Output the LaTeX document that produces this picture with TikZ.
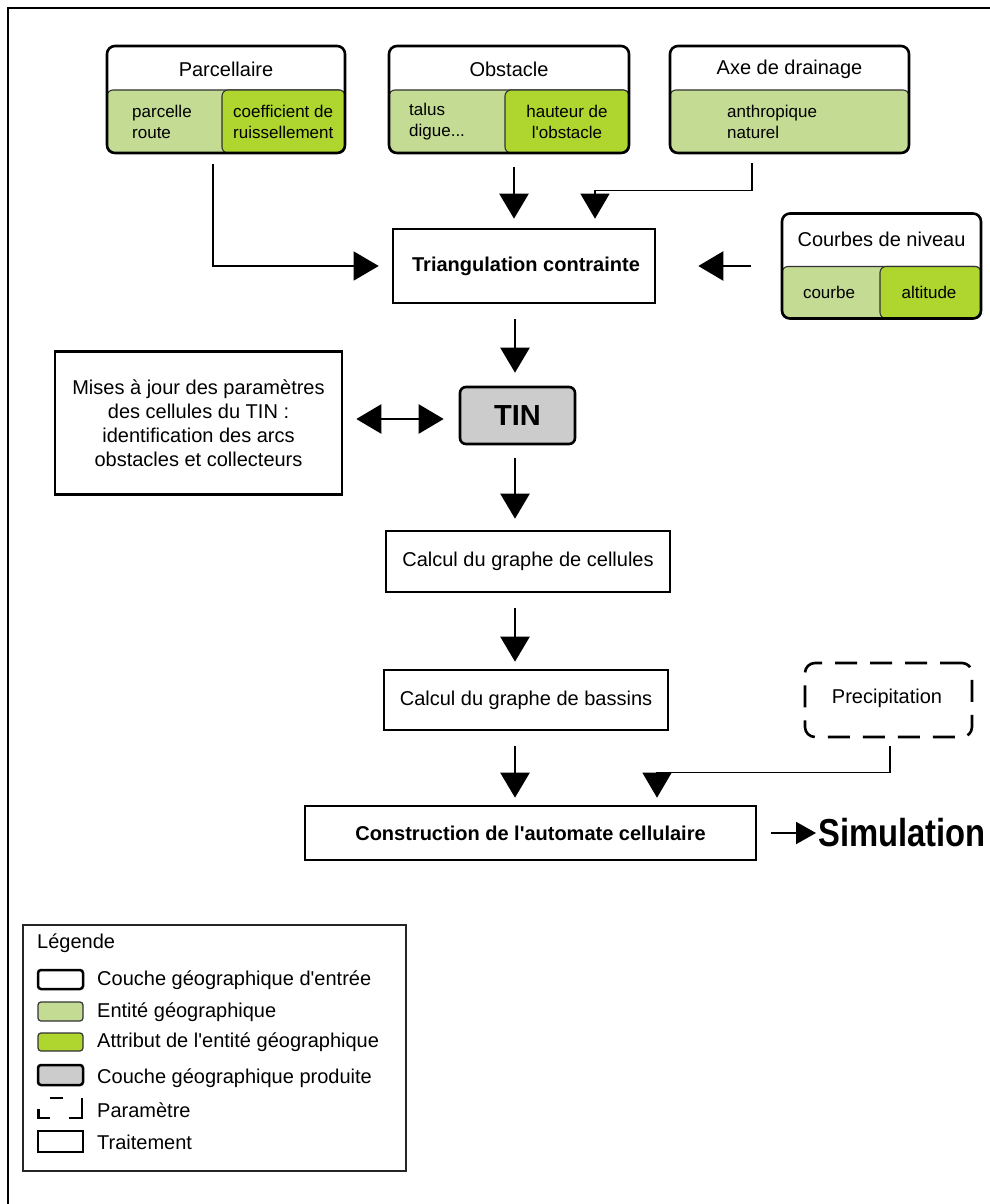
\documentclass[tikz,border=0pt]{standalone}
\usepackage{fontspec}
\setmainfont{Liberation Sans}
\usetikzlibrary{arrows.meta}
\definecolor{lgreen}{HTML}{C4DB94}
\definecolor{dgreen}{HTML}{AED62F}
\definecolor{tingray}{HTML}{CCCCCC}
\newcommand{\apo}{\textquotesingle}
\tikzset{
 inlayer/.style={draw, line width=2.6pt, rounded corners=8pt, inner sep=0pt},
 ent/.style={draw=black!80, line width=1.1pt, fill=lgreen, rounded corners=6pt, inner sep=0pt},
 attr/.style={draw=black!80, line width=1.1pt, fill=dgreen, rounded corners=6pt, inner sep=0pt},
 proc/.style={draw, line width=2.6pt, inner sep=0pt, fill=white},
 prod/.style={draw, line width=2.6pt, rounded corners=6pt, fill=tingray, inner sep=0pt},
 param/.style={draw, line width=2.6pt, dash pattern=on 22pt off 13pt, rounded corners=10pt, inner sep=0pt},
 hd/.style={font=\fontsize{20}{21}\selectfont, inner sep=0pt},
 bhd/.style={font=\fontsize{20}{21}\selectfont\bfseries, inner sep=0pt},
 ct/.style={font=\fontsize{17}{21}\selectfont, inner sep=0pt, align=left},
 arr/.style={line width=2.4pt, -{Triangle[length=25pt,width=29pt]}},
 tarr/.style={line width=1.2pt, -{Triangle[length=25pt,width=29pt]}},
 darr/.style={line width=2.4pt, {Triangle[length=25pt,width=29pt]}-{Triangle[length=25pt,width=29pt]}},
 sarr/.style={line width=2.2pt, -{Triangle[length=20pt,width=22pt]}},
 legicon/.style={minimum width=45pt, inner sep=0pt},
}
\begin{document}
\begin{tikzpicture}[x=1pt,y=-1pt]
\useasboundingbox (0,0) rectangle (989,1204);
\fill[white] (0,0) rectangle (989,1204);
% outer frame
\draw[line width=2.7pt] (8,1230) -- (8,8) -- (1010,8);

% ---- Parcellaire
\node[ent, minimum width=238pt, minimum height=63pt] (parcE) at (226,121.5) {};
\node[attr, minimum width=123pt, minimum height=63pt] (parcA) at (283.5,121.5) {};
\node[inlayer, minimum width=238pt, minimum height=107pt] (parc) at (226,99.5) {};
\node[hd] (parcT) at (226,69) {Parcellaire};
\node[ct, anchor=west] (parcEt) at (132,121.5) {parcelle\\route};
\node[ct, anchor=west] (parcAt) at (233,121.5) {coefficient de\\ruissellement};

% ---- Obstacle
\node[ent, minimum width=240pt, minimum height=63pt] (obstE) at (509,121.5) {};
\node[attr, minimum width=124pt, minimum height=63pt] (obstA) at (567,121.5) {};
\node[inlayer, minimum width=240pt, minimum height=107pt] (obst) at (509,99.5) {};
\node[hd] (obstT) at (509,69) {Obstacle};
\node[ct, anchor=west] (obstEt) at (409,121.5) {talus\\digue...};
\node[ct, align=center] (obstAt) at (567,121.5) {hauteur de\\l\apo obstacle};

% ---- Axe de drainage
\node[ent, minimum width=239pt, minimum height=63pt] (axeE) at (789.5,121.5) {};
\node[inlayer, minimum width=239pt, minimum height=107pt] (axe) at (789.5,99.5) {};
\node[hd] (axeT) at (789.5,69) {Axe de drainage};
\node[ct, anchor=west] (axeEt) at (727,121.5) {anthropique\\naturel};

% ---- Courbes de niveau
\node[ent, minimum width=199pt, minimum height=52pt] (courE) at (881.5,292.5) {};
\node[attr, minimum width=101pt, minimum height=52pt] (courA) at (930.5,292.5) {};
\node[inlayer, minimum width=199pt, minimum height=105pt] (cour) at (881.5,266) {};
\node[hd] (courT) at (881.5,239.5) {Courbes de niveau};
\node[ct] (courEt) at (829,292.5) {courbe};
\node[ct] (courAt) at (929,292.5) {altitude};

% ---- processing boxes
\node[proc, minimum width=262pt, minimum height=74pt] (tri) at (524,266) {};
\node[bhd] (triT) at (526,266) {Triangulation contrainte};

\node[prod, minimum width=115pt, minimum height=57pt] (tin) at (517.5,415.5) {};
\node[font=\fontsize{29}{30}\selectfont\bfseries, inner sep=0pt] (tinT) at (517.5,416) {TIN};

\node[proc, minimum width=287pt, minimum height=143pt, align=center,
      font=\fontsize{20}{24}\selectfont] (mise) at (198.5,423)
  {Mises à jour des paramètres\\des cellules du TIN :\\identification des arcs\\obstacles et collecteurs};

\node[proc, minimum width=284pt, minimum height=61pt, font=\fontsize{20}{21}\selectfont] (cel) at (528,561.5) {Calcul du graphe de cellules};
\node[proc, minimum width=284pt, minimum height=60pt, font=\fontsize{20}{21}\selectfont] (bas) at (526,700) {Calcul du graphe de bassins};

\node[param, minimum width=167pt, minimum height=74pt] (prec) at (888.5,700) {};
\node[hd] (precT) at (887,698) {Precipitation};

\node[proc, minimum width=451pt, minimum height=54pt] (cons) at (530.5,833) {};
\node[bhd] (consT) at (530.5,833) {Construction de l\apo automate cellulaire};

\node[anchor=west, inner sep=0pt] (sim) at (818,833)
  {\scalebox{0.84}[1]{\fontsize{39}{40}\selectfont\bfseries Simulation}};

% ---- connectors
\draw[tarr] ([xshift=-13pt,yshift=-10pt]parc.south) |- ([xshift=-13pt]tri.west);
\draw[arr] ([xshift=5pt,yshift=-13pt]obst.south) -- ([xshift=-10pt,yshift=9pt]tri.north);
\draw[tarr] ([xshift=-37.5pt,yshift=-9pt]axe.south) -- ++(0,27) -| ([xshift=71pt,yshift=9pt]tri.north);
\draw[arr] ([xshift=-30pt]cour.west) -- ([xshift=42pt]tri.east);
\draw[arr] ([xshift=-9pt,yshift=-15pt]tri.south) -- ([xshift=-2.5pt,yshift=13pt]tin.north);
\draw[darr] ([xshift=13pt,yshift=-3.5pt]mise.east |- tin.west) -- ([xshift=-15pt,yshift=-3.5pt]tin.west);
\draw[arr] ([xshift=-2.5pt,yshift=-13pt]tin.south) -- ([xshift=-13pt,yshift=11pt]cel.north);
\draw[arr] ([xshift=-13pt,yshift=-15pt]cel.south) -- ([xshift=-11pt,yshift=7pt]bas.north);
\draw[arr] ([xshift=-11pt,yshift=-15pt]bas.south) -- ([xshift=-15.5pt,yshift=7pt]cons.north);
\draw[tarr] ([xshift=1.5pt,yshift=-8pt]prec.south) -- ++(0,26) -| ([xshift=126.5pt,yshift=7pt]cons.north);
\draw[sarr] ([xshift=14pt]cons.east) -- ([xshift=-2pt]sim.west);

% ---- legend
\node[draw=black!85, line width=2pt, minimum width=383pt, minimum height=246pt, inner sep=0pt] (leg) at (214.5,1048) {};
\node[hd, anchor=west] (legT) at (37,943) {Légende};
\node[legicon, draw, line width=2.5pt, rounded corners=3pt, minimum height=19pt] (l1) at (60.5,979.5) {};
\node[legicon, draw=black!80, line width=1.2pt, fill=lgreen, rounded corners=3pt, minimum height=19pt] (l2) at (60.5,1011.5) {};
\node[legicon, draw=black!80, line width=1.2pt, fill=dgreen, rounded corners=3pt, minimum height=18pt] (l3) at (60.5,1042) {};
\node[legicon, draw, line width=2.5pt, fill=tingray, rounded corners=3pt, minimum height=20pt] (l4) at (60.5,1075) {};
\draw[line width=2.5pt] (50,1098) -- (63,1098);
\draw[line width=2.5pt] (38.5,1109) -- (38.5,1118) -- (50,1118);
\draw[line width=2.5pt] (69,1118) -- (82,1118) -- (82,1098);
\node[legicon, draw, line width=2.5pt, minimum height=21pt] (l6) at (60.5,1141.5) {};
\node[hd, anchor=west] (lt1) at (97,980) {Couche géographique d\apo entrée};
\node[hd, anchor=west] (lt2) at (97,1012) {Entité géographique};
\node[hd, anchor=west] (lt3) at (97,1042) {Attribut de l\apo entité géographique};
\node[hd, anchor=west] (lt4) at (97,1078) {Couche géographique produite};
\node[hd, anchor=west] (lt5) at (97,1110) {Paramètre};
\node[hd, anchor=west] (lt6) at (97,1142) {Traitement};
\end{tikzpicture}
\end{document}
